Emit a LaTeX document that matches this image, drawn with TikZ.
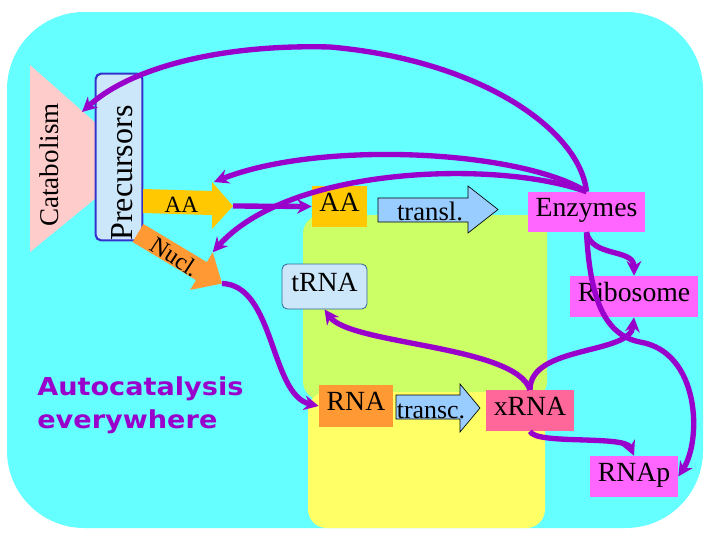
\documentclass[tikz,border=0pt]{standalone}
\usepackage{fontspec}
\setmainfont{Liberation Serif}
\newfontfamily\headfont{DejaVu Sans}
\usetikzlibrary{arrows.meta}
\definecolor{bgcyan}{HTML}{66FFFF}
\definecolor{lgreen}{HTML}{CCFF66}
\definecolor{lyellow}{HTML}{FFFF66}
\definecolor{tripink}{HTML}{FFCCCC}
\definecolor{precfill}{HTML}{CCE6FA}
\definecolor{precdraw}{HTML}{3333CC}
\definecolor{gold}{HTML}{FFC800}
\definecolor{orng}{HTML}{FF9933}
\definecolor{arrblue}{HTML}{99CCFF}
\definecolor{magen}{HTML}{FF66FF}
\definecolor{xpink}{HTML}{FF6699}
\definecolor{purp}{HTML}{9900CC}
\definecolor{trnadraw}{HTML}{336699}
\begin{document}
\begin{tikzpicture}[x=0.75pt,y=-0.75pt,
  box/.style={inner sep=0pt, text height=0.7em, text depth=0pt, font=\fontsize{20.8}{24}\selectfont},
  conn/.style={draw=purp, line width=4pt, -{Stealth[length=11pt,width=11pt]}},
  bigarrow/.style={draw=black, line width=0.5pt, fill=arrblue},
  lbl/.style={inner sep=0pt, anchor=base}]
\useasboundingbox (0,0) rectangle (720,540);
% background
\fill[bgcyan, rounded corners=58pt] (7,12) rectangle (703,528);
\fill[lgreen, rounded corners=14pt] (303,215) rectangle (547,400);
\fill[lyellow, rounded corners=14pt] (308,392) rectangle (545,528);
% catabolism triangle
\fill[tripink] (30,65) -- (140,162) -- (30,252) -- cycle;
\coordinate (cattip) at (82,112);
\node[lbl, rotate=90, font=\fontsize{20.3}{24}\selectfont] (catab) at (58,165) {Catabolism};
% precursors box
\node[draw=precdraw, line width=1.6pt, fill=precfill, rounded corners=4pt, inner sep=0pt,
      minimum width=35pt, minimum height=125pt] (prec) at (119,157) {};
\node[lbl, rotate=90, font=\fontsize{24}{28}\selectfont] (prectext) at (132,173) {Precursors};
% AA arrow from precursors
\fill[gold] (143,189) -- (212,191) -- (212,182) -- (233,206) -- (212,229) -- (212,215) -- (143,213) -- cycle;
\coordinate (aatip) at (233,206);
\coordinate (aahead) at (214,182);
\node[lbl, font=\fontsize{17.5}{20}\selectfont] (aalbl) at (181.5,212) {AA};
% Nucl. arrow
\begin{scope}[shift={(138,233)}, rotate=-31]
\fill[orng] (0,-10.5) -- (74,-10.5) -- (74,-22) -- (98,0) -- (74,22) -- (74,10.5) -- (0,10.5) -- cycle;
\coordinate (nucltip) at (98,0);
\coordinate (nuclhead) at (74,-22);
\end{scope}
\node[inner sep=0pt, rotate=-33, font=\fontsize{18}{20}\selectfont] (nucllbl) at (175,257) {Nucl.};
% transl. arrow
\draw[bigarrow] (378,198) -- (468,198) -- (468,186) -- (498,209.5) -- (468,233) -- (468,222) -- (378,222) -- cycle;
\node[lbl, font=\fontsize{20}{24}\selectfont] (transl) at (430,220) {transl.};
% transc. arrow
\draw[bigarrow] (396,395) -- (460,395) -- (460,384) -- (480,408) -- (460,432) -- (460,419) -- (396,419) -- cycle;
\node[lbl, font=\fontsize{19.4}{24}\selectfont] (transc) at (431,418) {transc.};
% boxes
\node[box, fill=gold, minimum width=41.25pt, minimum height=30.75pt] (aabox) at (339.5,206.5) {AA};
\node[box, fill=precfill, draw=trnadraw, line width=0.6pt, rounded corners=4pt, minimum width=63.75pt, minimum height=33.75pt] (trna) at (324.5,286.5) {tRNA};
\node[box, fill=magen, minimum width=87.75pt, minimum height=30pt] (enz) at (586.5,212) {Enzymes};
\node[box, fill=magen, minimum width=96pt, minimum height=30.75pt] (ribo) at (634,296.5) {Ribosome};
\node[box, fill=orng, minimum width=55.5pt, minimum height=31.5pt] (rna) at (356,406) {RNA};
\node[box, fill=xpink, minimum width=66pt, minimum height=30.75pt] (xrna) at (530,410.5) {xRNA};
\node[box, fill=magen, minimum width=66pt, minimum height=30.75pt] (rnap) at (634,476.5) {RNAp};
% autocatalysis text
\node[inner sep=0pt, anchor=north west, align=left, text=purp, xscale=1.1,
      font=\headfont\bfseries\fontsize{18.5}{24.75}\selectfont] (auto) at (37,376) {Autocatalysis\\everywhere};
% connectors
\draw[conn] (enz.north) .. controls (580,130) and (480,60) .. (330,47)
            .. controls (220,44) and (130,68) .. (cattip);
\draw[conn] (enz.north) .. controls (520,150) and (320,140) .. (aahead);
\draw[conn] (enz.north) .. controls (500,160) and (290,165) .. (nuclhead);
\draw[conn] (aatip) -- (aabox.west);
\draw[conn] (nucltip) .. controls (275,285) and (270,395) .. (rna.west);
\draw[conn] (xrna.north) .. controls (515,345) and (350,345) .. (trna.south);
\draw[conn] (xrna.north) .. controls (530,345) and (630,355) .. (ribo.south);
\draw[conn] (enz.south) .. controls (592,258) and (634,248) .. (ribo.north);
\draw[conn] (enz.south) .. controls (590,300) and (605,335) .. (640,342)
            .. controls (700,352) and (702,440) .. (rnap.east);
\draw[conn] (xrna.south) .. controls (535,445) and (625,435) .. (rnap.north);
\end{tikzpicture}
\end{document}
